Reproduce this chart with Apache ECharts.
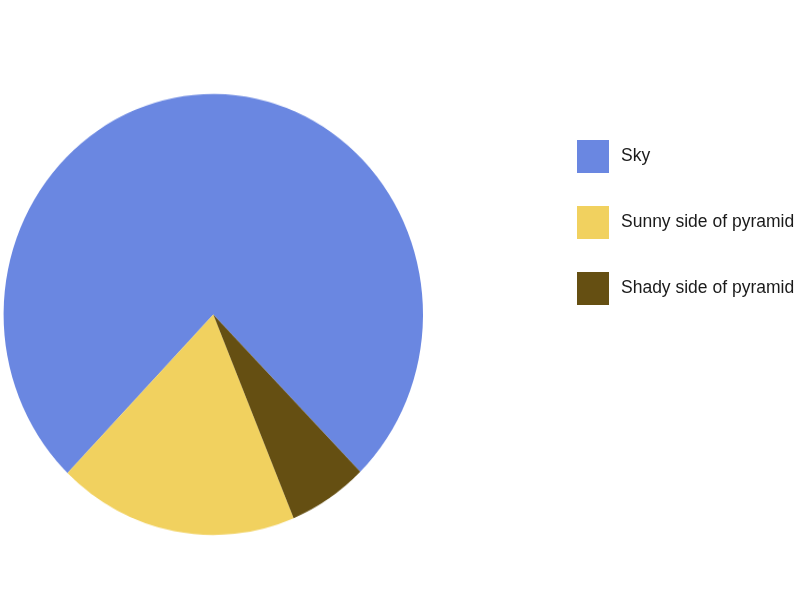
<!DOCTYPE html>
<html>
<head>
<meta charset="utf-8">
<script src="https://cdn.jsdelivr.net/npm/echarts@6/dist/echarts.min.js"></script>
<style>
  html, body { margin: 0; padding: 0; background: #fff; }
  #wrap { position: relative; width: 800px; height: 600px; overflow: hidden; }
  /* 原图的饼略扁（高比宽多一点），用纵向拉伸来还原 */
  #pie { position: absolute; left: 0; top: 0; width: 800px; height: 600px;
         transform: scaleY(1.0515); transform-origin: 213px 314.5px; }
  #legend { position: absolute; left: 0; top: 0; width: 800px; height: 600px; }
</style>
</head>
<body>
<div id="wrap">
  <div id="pie"></div>
  <div id="legend"></div>
</div>
<script>
// 数据
var categories = ['Sky', 'Sunny side of pyramid', 'Shady side of pyramid'];
var values = [75.4, 18.5, 6.1];
var colors = ['#6a87e1', '#f1d15f', '#654f12'];

var pieData = categories.map(function (name, i) {
    return { name: name, value: values[i], itemStyle: { color: colors[i] } };
});

// 饼图部分
var pieChart = echarts.init(document.getElementById('pie'));
pieChart.setOption({
    animation: false,
    series: [{
        type: 'pie',
        center: [213.3, 314.5],
        radius: 209.7,
        startAngle: -45.5,
        clockwise: false,
        label: { show: false },
        labelLine: { show: false },
        emphasis: { disabled: true },
        itemStyle: { borderWidth: 0 },
        data: pieData
    }]
});

// 图例 单独一层 不跟着拉伸
var legendChart = echarts.init(document.getElementById('legend'));
legendChart.setOption({
    animation: false,
    legend: {
        orient: 'vertical',
        left: 577,
        top: 140,
        padding: 0,
        icon: 'rect',
        itemWidth: 32,
        itemHeight: 33,
        itemGap: 33,
        selectedMode: false,
        data: categories.map(function (name, i) {
            return { name: name, itemStyle: { color: colors[i] } };
        }),
        textStyle: {
            fontFamily: 'Liberation Sans, Arial, sans-serif',
            fontSize: 17.5,
            color: '#1a1a1a',
            padding: [0, 0, 0, 7]
        }
    },
    series: [{
        type: 'pie',
        radius: 0,
        silent: true,
        label: { show: false },
        data: pieData.map(function (d) { return { name: d.name, value: 0, itemStyle: d.itemStyle }; })
    }]
});
</script>
</body>
</html>
